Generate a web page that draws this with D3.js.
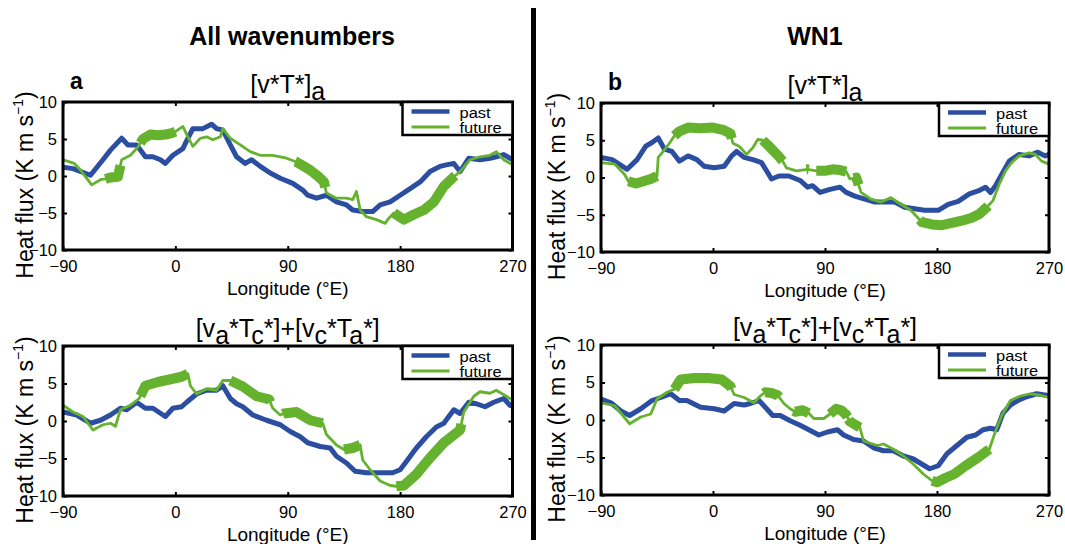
<!DOCTYPE html>
<html>
<head>
<meta charset="utf-8">
<script src="https://cdn.jsdelivr.net/npm/d3@7/dist/d3.min.js"></script>
<style>
  html, body { margin: 0; padding: 0; background: #fff; }
  svg { display: block; font-family: "Liberation Sans", Arial, Helvetica, sans-serif; }
</style>
</head>
<body>
<svg id="chart" width="1065" height="544"></svg>
<script>
// ---------------- DATA ----------------
const lonTicks = [-90, 0, 90, 180, 270];
const fluxTicks = [-10, -5, 0, 5, 10];
const seriesNames = ["past", "future"];
const columnTitles = ["All wavenumbers", "WN1"];
const panelLetters = ["a", "b"];

// Panel a, top: [v*T*]a  (lon, K m s-1)
const pastA1 = [[-90,1.2],[-82,1.0],[-68,0.1],[-58,2.2],[-52,3.5],[-43,5.1],[-38,4.2],[-31,4.2],[-24,2.6],[-18,2.6],[-12,2.2],[-8,1.7],[-2,2.8],[6,3.7],[10,5.1],[14,6.4],[22,6.4],[29,7.0],[33,6.4],[38,6.2],[44,4.2],[49,2.6],[56,1.7],[61,2.2],[68,1.3],[76,0.4],[84,-0.3],[94,-1.0],[102,-1.9],[106,-2.6],[113,-3.0],[121,-2.6],[129,-3.5],[137,-3.9],[142,-4.6],[150,-4.8],[158,-4.8],[164,-3.9],[172,-3.5],[180,-2.6],[188,-1.7],[196,-0.8],[204,0.6],[212,1.3],[217,1.5],[223,1.7],[228,0.6],[235,2.4],[244,2.2],[252,2.4],[257,2.6],[263,2.9],[270,2.2]];
const futureA1 = [[-90,2.2],[-81,1.7],[-76,0.8],[-67,-1.2],[-60,-0.5],[-56,-0.4],[-52,-0.2],[-46,-0.1],[-43,2.2],[-36,2.8],[-30,3.9],[-26,5.0],[-20,5.6],[-14,5.5],[-8,5.6],[-3,5.8],[0,6.0],[6,6.7],[10,5.3],[14,4.0],[20,5.1],[25,5.3],[30,4.9],[36,5.3],[38,6.4],[44,5.1],[52,4.2],[60,3.3],[68,2.8],[78,2.8],[89,2.4],[97,1.9],[102,1.4],[108,0.8],[114,0.0],[119,-0.8],[121,-2.3],[129,-3.0],[137,-3.0],[142,-3.2],[145,-2.1],[148,-4.6],[153,-5.5],[161,-5.9],[168,-6.4],[171,-5.7],[175,-5.0],[183,-5.9],[191,-5.2],[199,-4.6],[207,-3.5],[215,-1.4],[223,-0.1],[228,0.6],[236,2.2],[244,2.6],[252,2.8],[257,3.3],[263,2.2],[270,1.5]];
const sigA1 = [[-56,-44],[-28,0],[96,120],[175,224]];

// Panel b, top: [v*T*]a
const pastB1 = [[-90,2.7],[-81,2.4],[-69,1.1],[-61,2.4],[-54,4.2],[-49,4.7],[-44,5.3],[-39,3.8],[-33,3.5],[-27,2.2],[-20,2.9],[-13,2.4],[-7,1.5],[1,1.3],[9,1.5],[15,2.9],[19,3.5],[25,2.7],[32,2.4],[39,2.0],[43,0.9],[47,-0.2],[53,0.2],[61,0.2],[70,-0.4],[76,-1.3],[80,-1.1],[86,-2.0],[94,-1.6],[102,-1.3],[107,-2.0],[114,-2.5],[122,-2.9],[130,-3.3],[138,-3.3],[146,-3.3],[154,-4.0],[162,-4.2],[170,-4.4],[181,-4.4],[189,-3.6],[197,-3.2],[206,-2.2],[213,-1.8],[219,-1.3],[223,-2.0],[227,-1.1],[233,0.7],[238,2.2],[246,3.1],[254,2.9],[261,3.4],[267,2.9],[270,3.1]];
const futureB1 = [[-90,2.0],[-79,1.8],[-71,0.4],[-68,-0.5],[-62,-0.8],[-56,-0.5],[-50,-0.2],[-45,0.2],[-44,2.7],[-40,3.5],[-35,4.6],[-31,5.6],[-27,6.2],[-20,6.7],[-10,6.6],[0,6.7],[8,6.4],[14,5.9],[16,4.6],[21,4.2],[27,3.1],[32,4.0],[36,5.1],[40,5.0],[45,4.2],[52,3.0],[56,2.2],[59,1.3],[67,0.9],[76,1.1],[83,0.9],[90,0.9],[96,1.1],[102,1.0],[107,0.8],[110,-0.2],[115,0.0],[119,-2.0],[127,-2.9],[135,-3.3],[143,-2.7],[151,-3.6],[159,-4.4],[164,-5.3],[168,-6.0],[176,-6.3],[184,-6.4],[192,-6.1],[200,-5.8],[208,-5.4],[214,-4.9],[220,-4.0],[225,-3.1],[230,-0.9],[235,0.9],[240,2.0],[246,2.9],[254,3.3],[259,3.1],[264,2.2],[270,1.8]];
const sigB1 = [[-68,-45],[-31,15],[40,56],[75,77],[83,107],[113,117],[166,221]];

// Panel a, bottom: [va*Tc*]+[vc*Ta*]
const pastA2 = [[-90,1.2],[-79,0.8],[-68,-0.3],[-60,0.1],[-52,0.8],[-44,1.7],[-39,1.5],[-31,2.5],[-24,1.7],[-18,1.7],[-8,0.6],[-2,1.7],[5,1.9],[9,2.5],[17,3.6],[25,4.1],[33,4.1],[38,4.7],[44,3.0],[49,2.3],[54,1.9],[62,0.8],[73,0.1],[84,-0.5],[92,-1.4],[100,-2.1],[106,-2.9],[116,-3.4],[124,-3.6],[129,-4.7],[137,-5.6],[144,-6.7],[153,-6.9],[164,-6.9],[174,-6.9],[180,-6.5],[185,-5.4],[193,-3.6],[201,-2.1],[209,-0.8],[215,-0.3],[223,1.5],[228,1.0],[235,2.5],[241,2.3],[248,1.9],[255,2.5],[263,3.0],[268,2.1],[270,2.0]];
const futureA2 = [[-90,2.1],[-82,1.2],[-74,0.6],[-66,-1.2],[-58,-0.5],[-52,-0.3],[-48,-0.7],[-44,1.5],[-36,2.1],[-29,3.0],[-24,4.7],[-14,5.2],[-3,5.6],[5,5.9],[10,6.3],[12,4.7],[17,3.6],[25,4.3],[33,4.1],[38,5.4],[44,5.4],[54,4.6],[65,3.3],[75,2.9],[78,1.7],[84,0.8],[87,1.0],[97,1.2],[108,0.1],[118,-0.3],[121,-1.8],[129,-3.2],[135,-3.8],[142,-3.6],[148,-3.2],[150,-5.2],[156,-6.5],[164,-8.0],[172,-8.6],[177,-8.7],[183,-8.6],[193,-7.1],[204,-4.9],[215,-2.9],[228,-1.2],[231,1.2],[239,3.3],[244,3.9],[252,3.7],[257,4.1],[263,3.5],[270,2.8]];
const sigA2 = [[-28,10],[44,76],[86,118],[135,148],[177,229]];

// Panel b, bottom: [va*Tc*]+[vc*Ta*]
const pastB2 = [[-90,2.8],[-82,2.3],[-74,1.2],[-67,0.6],[-58,1.5],[-49,2.6],[-42,3.0],[-34,3.5],[-27,2.6],[-21,2.6],[-10,1.7],[1,1.5],[9,1.2],[17,2.2],[25,2.0],[30,2.2],[37,2.6],[42,1.7],[48,0.6],[54,0.6],[62,-0.1],[70,-0.7],[77,-1.3],[85,-2.0],[92,-1.6],[100,-1.3],[105,-2.0],[113,-2.6],[121,-2.8],[129,-3.7],[137,-4.1],[145,-4.1],[153,-4.8],[161,-5.2],[168,-5.9],[174,-6.5],[181,-6.1],[188,-4.5],[196,-3.4],[204,-2.3],[211,-2.0],[217,-1.3],[223,-1.1],[228,-1.3],[233,0.9],[239,2.0],[245,2.6],[252,3.1],[260,3.5],[268,3.3],[270,3.2]];
const futureB2 = [[-90,2.3],[-79,1.9],[-67,-0.5],[-58,0.4],[-50,0.8],[-45,2.8],[-37,3.7],[-31,4.1],[-26,5.4],[-15,5.6],[-4,5.6],[7,5.4],[14,4.5],[17,3.4],[25,3.0],[33,2.3],[38,3.2],[42,3.7],[47,3.6],[52,3.3],[57,2.2],[62,1.5],[66,1.1],[72,1.3],[77,0.9],[81,0.2],[89,0.2],[94,0.8],[99,1.5],[103,1.3],[107,0.7],[110,-0.2],[114,-0.6],[118,-1.0],[121,-2.8],[132,-3.4],[137,-3.2],[145,-3.9],[153,-4.8],[161,-5.9],[169,-7.2],[176,-8.1],[180,-8.3],[187,-7.7],[194,-7.2],[203,-6.1],[213,-5.0],[222,-3.9],[227,-1.5],[232,0.6],[239,2.6],[247,3.2],[255,3.5],[263,3.3],[270,3.0]];
const sigB2 = [[-31,15],[41,53],[65,77],[94,108],[109,118],[176,222]];

// subtitle pieces: [text, isSubscript]
const subtitleTop = [["[v*T*]", false], ["a", true]];
const subtitleBottom = [["[v", false], ["a", true], ["*T", false], ["c", true], ["*]+[v", false], ["c", true], ["*T", false], ["a", true], ["*]", false]];

// ---------------- DRAW ----------------
const svg = d3.select("#chart");
const BLUE = "#2b4ea1";
const GREEN = "#64b22e";
const FONT = '"Liberation Sans", Arial, Helvetica, sans-serif';

const panels = [
  {past: pastA1, future: futureA1, sig: sigA1, sub: subtitleTop, x0: 63, x1: 512.5, y0: 102, y1: 250, ylabX: 33, letter: panelLetters[0]},
  {past: pastB1, future: futureB1, sig: sigB1, sub: subtitleTop, x0: 601, x1: 1049, y0: 103, y1: 252, ylabX: 565, letter: panelLetters[1]},
  {past: pastA2, future: futureA2, sig: sigA2, sub: subtitleBottom, x0: 63, x1: 512.5, y0: 346, y1: 496, ylabX: 33, letter: null},
  {past: pastB2, future: futureB2, sig: sigB2, sub: subtitleBottom, x0: 601, x1: 1049, y0: 345, y1: 495, ylabX: 565, letter: null}
];

// column titles
svg.append("text").attr("x", 292).attr("y", 45).attr("text-anchor", "middle")
  .attr("font-size", 25).attr("font-weight", "bold").text(columnTitles[0]);
svg.append("text").attr("x", 815).attr("y", 45).attr("text-anchor", "middle")
  .attr("font-size", 25).attr("font-weight", "bold").text(columnTitles[1]);

// vertical divider
svg.append("line").attr("x1", 533.5).attr("x2", 533.5).attr("y1", 8).attr("y2", 540)
  .attr("stroke", "#000").attr("stroke-width", 5);

function interp(data, lon) {
  for (let i = 0; i < data.length - 1; i++) {
    const a = data[i], b = data[i + 1];
    if (lon >= a[0] && lon <= b[0]) {
      const t = b[0] === a[0] ? 0 : (lon - a[0]) / (b[0] - a[0]);
      return a[1] + t * (b[1] - a[1]);
    }
  }
  return data[data.length - 1][1];
}

panels.forEach((p, idx) => {
  const x = d3.scaleLinear().domain([lonTicks[0], lonTicks[lonTicks.length - 1]]).range([p.x0, p.x1]);
  const y = d3.scaleLinear().domain([fluxTicks[0], fluxTicks[fluxTicks.length - 1]]).range([p.y1, p.y0]);
  const g = svg.append("g");
  const clipId = "clip" + idx;
  svg.append("clipPath").attr("id", clipId).append("rect")
    .attr("x", p.x0).attr("y", p.y0).attr("width", p.x1 - p.x0).attr("height", p.y1 - p.y0);

  const line = d3.line().x(d => x(d[0])).y(d => y(d[1]));
  const lg = g.append("g").attr("clip-path", `url(#${clipId})`);
  lg.append("path").datum(p.past).attr("d", line).attr("fill", "none")
    .attr("stroke", BLUE).attr("stroke-width", 5).attr("stroke-linejoin", "round");
  lg.append("path").datum(p.future).attr("d", line).attr("fill", "none")
    .attr("stroke", GREEN).attr("stroke-width", 2.8).attr("stroke-linejoin", "round");
  p.sig.forEach(([s, e]) => {
    const pts = [[s, interp(p.future, s)]]
      .concat(p.future.filter(d => d[0] > s && d[0] < e))
      .concat([[e, interp(p.future, e)]]);
    lg.append("path").datum(pts).attr("d", line).attr("fill", "none")
      .attr("stroke", GREEN).attr("stroke-width", 10).attr("stroke-linejoin", "round").attr("stroke-linecap", "butt");
  });

  // axes
  const fmt = d => d3.format("d")(d);
  const xb = g.append("g").attr("transform", `translate(0,${p.y1})`)
    .call(d3.axisBottom(x).tickValues(lonTicks).tickSizeInner(-4).tickSizeOuter(0).tickPadding(10).tickFormat(fmt));
  const xt = g.append("g").attr("transform", `translate(0,${p.y0})`)
    .call(d3.axisTop(x).tickValues(lonTicks).tickSizeInner(-4).tickSizeOuter(0).tickFormat(""));
  const yl = g.append("g").attr("transform", `translate(${p.x0},0)`)
    .call(d3.axisLeft(y).tickValues(fluxTicks).tickSizeInner(-4).tickSizeOuter(0).tickPadding(6).tickFormat(fmt));
  const yr = g.append("g").attr("transform", `translate(${p.x1},0)`)
    .call(d3.axisRight(y).tickValues(fluxTicks).tickSizeInner(-4).tickSizeOuter(0).tickFormat(""));
  [xb, xt, yl, yr].forEach(a => {
    a.select(".domain").remove();
    a.selectAll("line").attr("stroke", "#000").attr("stroke-width", 2);
    a.selectAll("text").attr("font-size", 16.5).attr("font-family", FONT).attr("fill", "#000");
  });

  // frame
  g.append("rect").attr("x", p.x0).attr("y", p.y0).attr("width", p.x1 - p.x0).attr("height", p.y1 - p.y0)
    .attr("fill", "none").attr("stroke", "#000").attr("stroke-width", 3);

  // legend
  const lx = p.x1 - 110, ly = p.y0;
  g.append("rect").attr("x", lx).attr("y", ly).attr("width", 110).attr("height", 33)
    .attr("fill", "#fff").attr("stroke", "#000").attr("stroke-width", 2.5);
  g.append("line").attr("x1", lx + 9).attr("x2", lx + 47).attr("y1", ly + 9.5).attr("y2", ly + 9.5)
    .attr("stroke", BLUE).attr("stroke-width", 4.5);
  g.append("line").attr("x1", lx + 9).attr("x2", lx + 47).attr("y1", ly + 25).attr("y2", ly + 25)
    .attr("stroke", GREEN).attr("stroke-width", 3);
  g.append("text").attr("transform", `translate(${lx + 57},${ly + 15.5}) scale(1,0.85)`)
    .attr("font-size", 16.5).text(seriesNames[0]);
  g.append("text").attr("transform", `translate(${lx + 57},${ly + 31}) scale(1,0.85)`)
    .attr("font-size", 16.5).text(seriesNames[1]);

  // x label
  g.append("text").attr("x", (p.x0 + p.x1) / 2).attr("y", p.y1 + 45).attr("text-anchor", "middle")
    .attr("font-size", 19).text("Longitude (°E)");

  // y label
  const yt = g.append("text").attr("transform", `translate(${p.ylabX},${(p.y0 + p.y1) / 2 + 9}) rotate(-90)`)
    .attr("text-anchor", "middle").attr("font-size", 23);
  yt.append("tspan").text("Heat flux (K m s");
  yt.append("tspan").attr("font-size", 14).attr("dy", -10).text("−1");
  yt.append("tspan").attr("dy", 10).text(")");

  // subtitle
  const st = g.append("text").attr("x", (p.x0 + p.x1) / 2).attr("y", p.y0 - 9)
    .attr("text-anchor", "middle").attr("font-size", 25);
  let down = false;
  p.sub.forEach(([t, isSub]) => {
    const ts = st.append("tspan").text(t);
    if (isSub && !down) { ts.attr("dy", 7); down = true; }
    else if (!isSub && down) { ts.attr("dy", -7); down = false; }
  });

  // panel letter
  if (p.letter) {
    g.append("text").attr("x", p.x0 + 7).attr("y", p.y0 - 13).attr("font-size", 23)
      .attr("font-weight", "bold").text(p.letter);
  }
});
</script>
</body>
</html>
